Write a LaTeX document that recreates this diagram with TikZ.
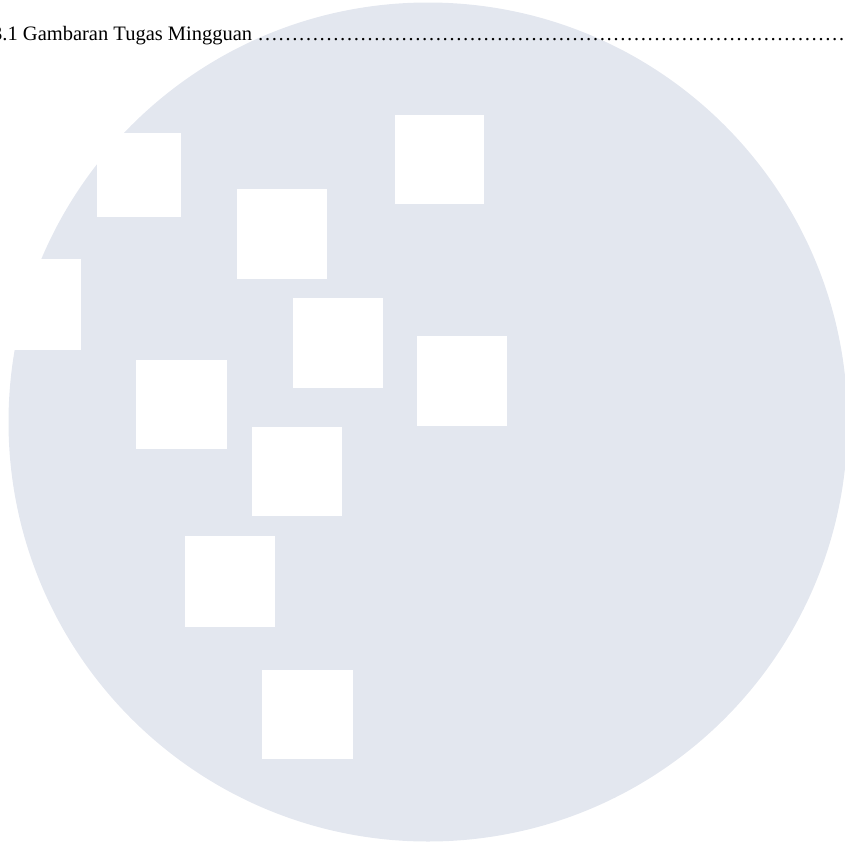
\documentclass[tikz,border=0pt]{standalone}
\usepackage{fontspec}
\setmainfont{Liberation Serif}
\definecolor{disc}{RGB}{227,231,239}
\newcommand{\leaderdots}{……………………………………………………………………………………………………}
\begin{document}
\begin{tikzpicture}[x=1pt,y=-1pt,
  tile/.style={fill=white},
  caption/.style={anchor=base west, inner sep=0pt, font=\fontsize{20.5}{24}\selectfont}]
\useasboundingbox (0,0) rectangle (845,846);
\clip (0,0) rectangle (845,846);
\fill[disc] (428,422) circle[radius=419.5pt];
\fill[tile] (395,115) rectangle (484,204);
\fill[tile] (97,133) rectangle (181,217);
\fill[tile] (237,189) rectangle (327,279);
\fill[tile] (-10,259) rectangle (81,350);
\fill[tile] (293,298) rectangle (383,388);
\fill[tile] (417,336) rectangle (507,426);
\fill[tile] (136,360) rectangle (227,449);
\fill[tile] (252,427) rectangle (342,516);
\fill[tile] (185,536) rectangle (275,627);
\fill[tile] (262,670) rectangle (353,759);
\node[caption] (title) at (-8,40) {3.1 Gambaran Tugas Mingguan \leaderdots};
\end{tikzpicture}
\end{document}
